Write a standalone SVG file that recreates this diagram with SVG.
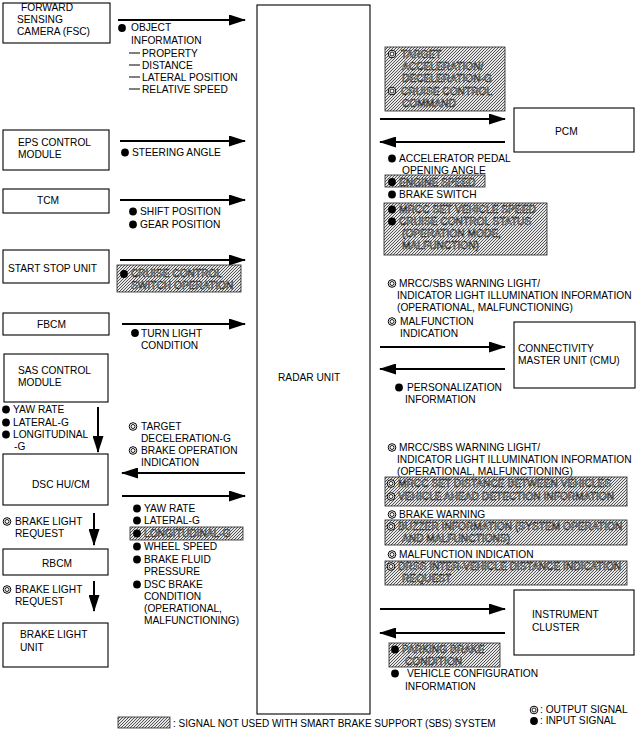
<svg xmlns="http://www.w3.org/2000/svg" width="637" height="731" viewBox="0 0 637 731">
<style>
text{font-family:"Liberation Sans",Arial,Helvetica,sans-serif;font-size:10.2px;fill:#000}
.box{fill:#fff;stroke:#000;stroke-width:1.1}
.h{fill:url(#hatch);stroke:#222;stroke-width:0.8}
.ln{stroke:#000;stroke-width:2;fill:none;marker-end:url(#ah)}
.ds{stroke:#000;stroke-width:1}
.ht{fill:#fff;stroke:#111;stroke-width:0.55}
</style>
<defs>
<pattern id="hatch" patternUnits="userSpaceOnUse" width="3" height="3">
<rect width="3" height="3" fill="#e6e6e6"/>
<path d="M-1,1 L1,-1 M0,3 L3,0 M2,4 L4,2" stroke="#3a3a3a" stroke-width="0.85"/>
</pattern>
<marker id="ah" markerUnits="userSpaceOnUse" markerWidth="17" markerHeight="11" refX="16" refY="5.5" viewBox="0 0 17 11" orient="auto">
<path d="M0,0 L17,5.5 L0,11 Z" fill="#000"/>
</marker>
<circle id="in" r="3.9" fill="#000"/>
<g id="out"><circle r="3.8" fill="#fff" stroke="#000" stroke-width="1"/><circle r="2" fill="none" stroke="#000" stroke-width="0.9"/></g>
</defs>
<rect width="637" height="731" fill="#fff"/>

<g id="radar-unit"><rect class="box" x="257" y="5" width="113" height="709"/><text x="278" y="381">RADAR UNIT</text></g>

<g id="fsc"><rect class="box" x="3" y="3" width="107" height="40"/><text x="21" y="11">FORWARD</text><text x="17" y="23">SENSING</text><text x="17" y="35">CAMERA (FSC)</text></g>
<g id="eps"><rect class="box" x="3" y="130" width="106" height="40"/><text x="18" y="146">EPS CONTROL</text><text x="18" y="158">MODULE</text></g>
<g id="tcm"><rect class="box" x="3" y="189" width="106" height="24"/><text x="37" y="204">TCM</text></g>
<g id="start-stop"><rect class="box" x="3" y="250" width="106" height="33"/><text x="8" y="272">START STOP UNIT</text></g>
<g id="fbcm"><rect class="box" x="3" y="313" width="106" height="22"/><text x="37" y="328">FBCM</text></g>
<g id="sas"><rect class="box" x="4" y="354" width="104" height="48"/><text x="18" y="374">SAS CONTROL</text><text x="18" y="386">MODULE</text></g>
<g id="dsc"><rect class="box" x="3" y="454" width="105" height="51"/><text x="32" y="488">DSC HU/CM</text></g>
<g id="rbcm"><rect class="box" x="3" y="549" width="105" height="26"/><text x="42" y="567">RBCM</text></g>
<g id="brake-light"><rect class="box" x="3" y="623" width="105" height="44"/><text x="20" y="638">BRAKE LIGHT</text><text x="20" y="651">UNIT</text></g>

<g id="pcm"><rect class="box" x="514" y="108" width="120" height="44"/><text x="555" y="135">PCM</text></g>
<g id="cmu"><rect class="box" x="514" y="322" width="121" height="66"/><text x="518" y="352">CONNECTIVITY</text><text x="518" y="364">MASTER UNIT (CMU)</text></g>
<g id="instrument"><rect class="box" x="514" y="590" width="120" height="65"/><text x="532" y="618">INSTRUMENT</text><text x="532" y="631">CLUSTER</text></g>

<g id="connectors">
<line class="ln" x1="118" y1="20" x2="245" y2="20"/>
<line class="ln" x1="120" y1="141" x2="245" y2="141"/>
<line class="ln" x1="120" y1="200" x2="245" y2="200"/>
<line class="ln" x1="120" y1="260" x2="245" y2="260"/>
<line class="ln" x1="122" y1="324" x2="245" y2="324"/>
<line class="ln" x1="98" y1="407" x2="98" y2="452"/>
<line class="ln" x1="245" y1="473" x2="122" y2="473"/>
<line class="ln" x1="122" y1="496" x2="245" y2="496"/>
<line class="ln" x1="94" y1="513" x2="94" y2="545"/>
<line class="ln" x1="94" y1="581" x2="94" y2="611"/>
<line class="ln" x1="380" y1="119" x2="505" y2="119"/>
<line class="ln" x1="505" y1="142" x2="380" y2="142"/>
<line class="ln" x1="380" y1="347" x2="505" y2="347"/>
<line class="ln" x1="505" y1="369" x2="380" y2="369"/>
<line class="ln" x1="380" y1="609" x2="505" y2="609"/>
<line class="ln" x1="505" y1="633" x2="380" y2="633"/>
</g>

<g id="labels-left">
<use href="#in" x="122" y="28"/>
<text x="131" y="31">OBJECT</text>
<text x="131" y="44">INFORMATION</text>
<line class="ds" x1="129" y1="53" x2="140" y2="53"/><text x="142" y="57">PROPERTY</text>
<line class="ds" x1="129" y1="65" x2="140" y2="65"/><text x="142" y="69">DISTANCE</text>
<line class="ds" x1="129" y1="77" x2="140" y2="77"/><text x="142" y="81">LATERAL POSITION</text>
<line class="ds" x1="129" y1="89" x2="140" y2="89"/><text x="142" y="93">RELATIVE SPEED</text>

<use href="#in" x="125" y="152.5"/><text x="132" y="156">STEERING ANGLE</text>

<use href="#in" x="133" y="211.5"/><text x="140" y="215">SHIFT POSITION</text>
<use href="#in" x="133" y="224.5"/><text x="140" y="228">GEAR POSITION</text>

<rect class="h" x="117" y="265" width="124" height="27"/>
<use href="#in" x="124" y="274"/>
<text class="ht" x="131" y="277">CRUISE CONTROL</text>
<text class="ht" x="131" y="289">SWITCH OPERATION</text>

<use href="#in" x="135" y="333"/><text x="141" y="337">TURN LIGHT</text><text x="141" y="349">CONDITION</text>

<use href="#in" x="6" y="409.5"/><text x="13" y="413">YAW RATE</text>
<use href="#in" x="6" y="422.5"/><text x="13" y="426">LATERAL-G</text>
<use href="#in" x="6" y="434.5"/><text x="13" y="438">LONGITUDINAL</text>
<text x="14" y="450">-G</text>

<use href="#out" x="133" y="426.5"/><text x="141" y="430">TARGET</text>
<text x="141" y="442">DECELERATION-G</text>
<use href="#out" x="133" y="450.5"/><text x="141" y="454">BRAKE OPERATION</text>
<text x="141" y="466">INDICATION</text>

<use href="#in" x="137" y="508.5"/><text x="144" y="512">YAW RATE</text>
<use href="#in" x="137" y="520.5"/><text x="144" y="524">LATERAL-G</text>
<rect class="h" x="130" y="527" width="113" height="13"/>
<use href="#in" x="137" y="533.5"/><text class="ht" x="144" y="537">LONGITUDINAL-G</text>
<use href="#in" x="137" y="546.5"/><text x="144" y="550">WHEEL SPEED</text>
<use href="#in" x="137" y="559.5"/><text x="144" y="563">BRAKE FLUID</text>
<text x="144" y="575">PRESSURE</text>
<use href="#in" x="137" y="584.5"/><text x="144" y="588">DSC BRAKE</text>
<text x="144" y="600">CONDITION</text>
<text x="144" y="612">(OPERATIONAL,</text>
<text x="144" y="624">MALFUNCTIONING)</text>

<use href="#out" x="7" y="521.5"/><text x="15" y="525">BRAKE LIGHT</text>
<text x="15" y="537">REQUEST</text>
<use href="#out" x="7" y="589.5"/><text x="15" y="593">BRAKE LIGHT</text>
<text x="15" y="605">REQUEST</text>
</g>

<g id="labels-right">
<rect class="h" x="385" y="47" width="120" height="64"/>
<use href="#out" x="392" y="54"/><text class="ht" x="401" y="58">TARGET</text>
<text class="ht" x="402" y="70">ACCELERATION/</text>
<text class="ht" x="402" y="82">DECELERATION-G</text>
<use href="#out" x="392" y="91"/><text class="ht" x="401" y="95">CRUISE CONTROL</text>
<text class="ht" x="402" y="107">COMMAND</text>

<use href="#in" x="392" y="158.5"/><text x="399" y="162">ACCELERATOR PEDAL</text>
<text x="402" y="174">OPENING ANGLE</text>
<rect class="h" x="385" y="175" width="100" height="12"/>
<use href="#in" x="392" y="182"/><text class="ht" x="399" y="186">ENGINE SPEED</text>
<use href="#in" x="392" y="194.5"/><text x="399" y="198">BRAKE SWITCH</text>
<rect class="h" x="384" y="203" width="163" height="52"/>
<use href="#in" x="392" y="209.5"/><text class="ht" x="399" y="213">MRCC SET VEHICLE SPEED</text>
<use href="#in" x="392" y="221.5"/><text class="ht" x="399" y="225">CRUISE CONTROL STATUS</text>
<text class="ht" x="402" y="237">(OPERATION MODE,</text>
<text class="ht" x="402" y="249">MALFUNCTION)</text>

<use href="#out" x="392" y="283.5"/><text x="399" y="287">MRCC/SBS WARNING LIGHT/</text>
<text x="397" y="299">INDICATOR LIGHT ILLUMINATION INFORMATION</text>
<text x="397" y="311">(OPERATIONAL, MALFUNCTIONING)</text>
<use href="#out" x="392" y="321.5"/><text x="400" y="325">MALFUNCTION</text>
<text x="400" y="337">INDICATION</text>
<use href="#in" x="399" y="387.5"/><text x="407" y="391">PERSONALIZATION</text>
<text x="405" y="403">INFORMATION</text>

<use href="#out" x="392" y="447.5"/><text x="399" y="451">MRCC/SBS WARNING LIGHT/</text>
<text x="397" y="463">INDICATOR LIGHT ILLUMINATION INFORMATION</text>
<text x="397" y="475">(OPERATIONAL, MALFUNCTIONING)</text>
<rect class="h" x="385" y="477" width="242" height="29"/>
<use href="#out" x="391" y="483.5"/><text class="ht" x="398" y="487">MRCC SET DISTANCE BETWEEN VEHICLES</text>
<use href="#out" x="391" y="496.5"/><text class="ht" x="398" y="500">VEHICLE AHEAD DETECTION INFORMATION</text>
<use href="#out" x="392" y="514.5"/><text x="399" y="518">BRAKE WARNING</text>
<rect class="h" x="385" y="520" width="242" height="25"/>
<use href="#out" x="391" y="526.5"/><text class="ht" x="398" y="530">BUZZER INFORMATION (SYSTEM OPERATION</text>
<text class="ht" x="402" y="542">AND MALFUNCTIONS)</text>
<use href="#out" x="392" y="554.5"/><text x="399" y="558">MALFUNCTION INDICATION</text>
<rect class="h" x="385" y="561" width="242" height="24"/>
<use href="#out" x="391" y="566.5"/><text class="ht" x="398" y="570">DRSS INTER-VEHICLE DISTANCE INDICATION</text>
<text class="ht" x="402" y="582">REQUEST</text>

<rect class="h" x="389" y="643" width="111" height="24"/>
<use href="#in" x="395" y="649.5"/><text class="ht" x="402" y="653">PARKING BRAKE</text>
<text class="ht" x="405" y="665">CONDITION</text>
<use href="#in" x="395" y="673.5"/><text x="407" y="677">VEHICLE CONFIGURATION</text>
<text x="405" y="690">INFORMATION</text>
</g>

<g id="legend">
<rect class="h" x="118" y="717" width="52" height="11"/>
<text x="173" y="727" style="font-size:10px">: SIGNAL NOT USED WITH SMART BRAKE SUPPORT (SBS) SYSTEM</text>
<use href="#out" x="534" y="710"/><text x="540" y="713">: OUTPUT SIGNAL</text>
<use href="#in" x="534" y="721"/><text x="540" y="724">: INPUT SIGNAL</text>
</g>
</svg>
